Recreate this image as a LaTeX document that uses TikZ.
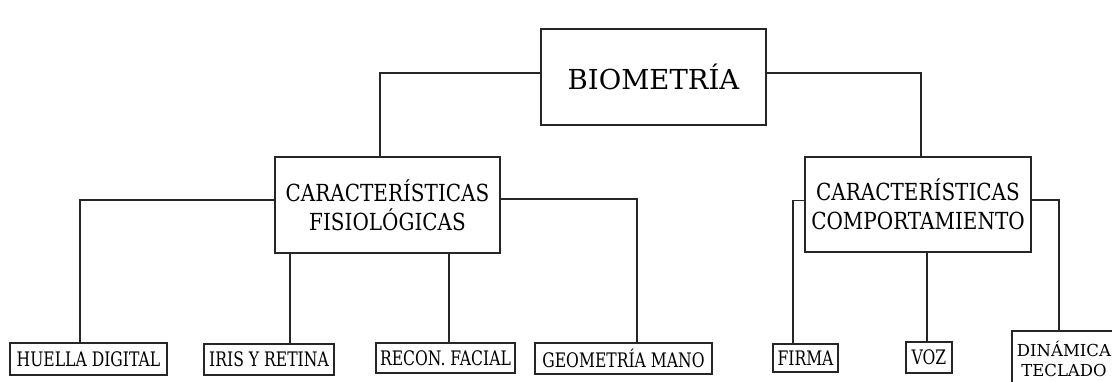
\documentclass[tikz,border=0pt]{standalone}
\usepackage{fontspec}
\setmainfont{DejaVu Serif}
\newfontfamily\narrowfont{DejaVu Serif}[FakeStretch=0.85]
\newfontfamily\leaffont{DejaVu Serif}[FakeStretch=0.78]
\usepackage{tikz}
\usetikzlibrary{positioning,calc}

\tikzset{
  box/.style = {draw=black!85, line width=1.6pt, inner sep=0pt, align=center},
  midbox/.style = {box, minimum width=225, minimum height=96, font=\narrowfont\fontsize{23.5}{29}\selectfont},
  leaf/.style = {box, font=\leaffont\fontsize{20}{24}\selectfont},
  link/.style = {draw=black!85, line width=1.6pt}
}

\begin{document}
\begin{tikzpicture}[x = 1pt, y = -1pt]
\useasboundingbox (0,0) rectangle (1112,381);
\node[box, minimum width=225, minimum height=96, font=\fontsize{27.5}{32}\selectfont] (bio) at (653.5,77) {BIOMETRÍA};
\node[midbox] (fis) at (387.5,205) {CARACTERÍSTICAS\\FISIOLÓGICAS};
\node[midbox, minimum width=226, minimum height=95] (comp) at (918,204.5) {CARACTERÍSTICAS\\COMPORTAMIENTO};
% hojas
\node[leaf, minimum width=157, minimum height=32] (huella) at (88.5,359) {HUELLA DIGITAL};
\node[leaf, minimum width=130, minimum height=31] (iris) at (269,359.5) {IRIS Y RETINA};
\node[leaf, minimum width=139, minimum height=30] (recon) at (445.5,358) {RECON. FACIAL};
\node[leaf, minimum width=177, minimum height=31] (geom) at (623.5,358.5) {GEOMETRÍA MANO};
\node[leaf, minimum width=65, minimum height=28] (firma) at (805.5,358) {FIRMA};
\node[leaf, minimum width=46, minimum height=31] (voz) at (929,357.5) {VOZ};
\node[box, minimum width=104, minimum height=56, font=\fontsize{16.5}{20}\selectfont] (din) at (1064,359) {DINÁMICA\\TECLADO};
\draw[link] ([yshift=4pt]bio.west) -| ([xshift=-7.5pt]fis.north);
\draw[link] ([yshift=4pt]bio.east) -| ([xshift=3pt]comp.north);
\draw[link] ([yshift=5pt]fis.west) -| ([xshift=-8.5pt]huella.north);
\draw[link] ([xshift=21pt]iris.north) -- ([xshift=21pt]iris.north |- fis.south);
\draw[link] ([xshift=3.5pt]recon.north) -- ([xshift=3.5pt]recon.north |- fis.south);
\draw[link] ([yshift=6pt]fis.east) -| ([xshift=13.5pt]geom.north);
\draw[link] ([yshift=4pt]comp.west) -| ([xshift=-12.5pt]firma.north);
\draw[link] ([xshift=-2pt]voz.north) -- ([xshift=-2pt]voz.north |- comp.south);
\draw[link] ([yshift=4.5pt]comp.east) -| ([xshift=-5pt]din.north);
\end{tikzpicture}
\end{document}
